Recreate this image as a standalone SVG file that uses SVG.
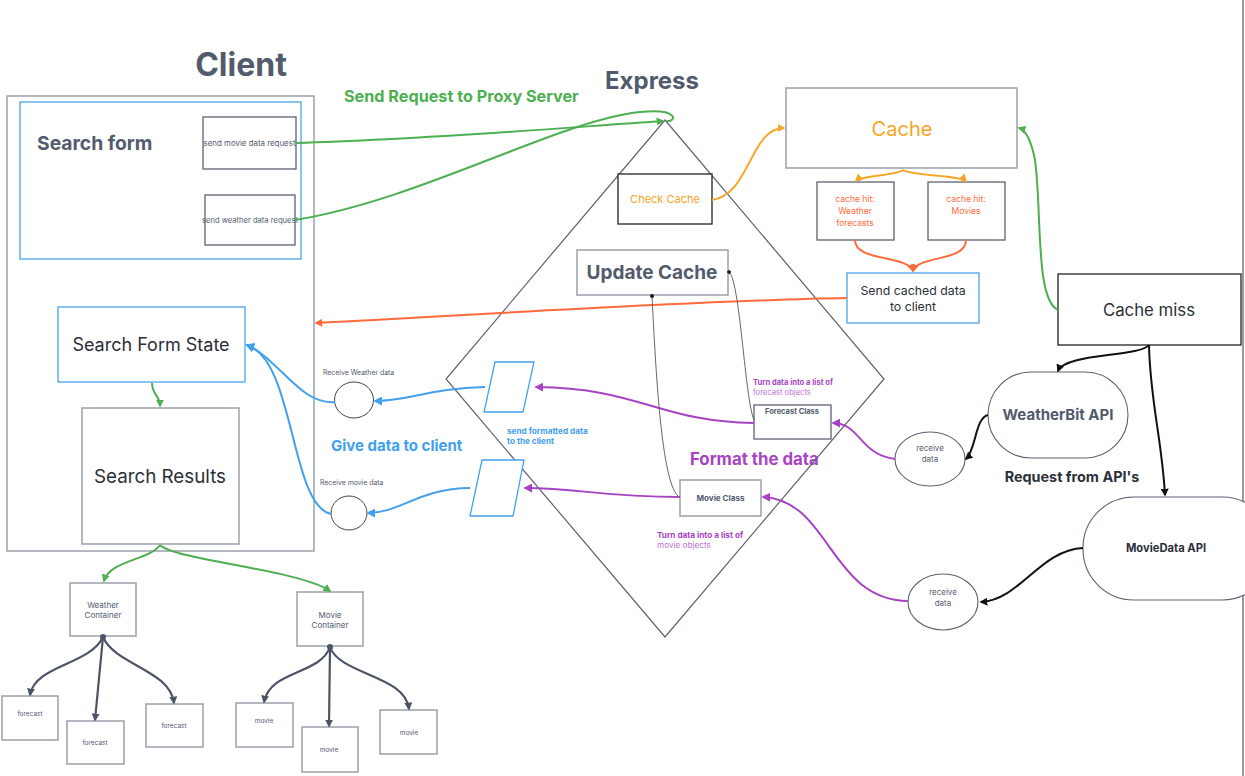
<svg xmlns="http://www.w3.org/2000/svg" width="1245" height="776" viewBox="0 0 1245 776">
<defs>
<style>
text{font-family:Inter,"Noto Sans","Liberation Sans",sans-serif}
.box{fill:#fff;stroke:#9aa0ab;stroke-width:1.5}
.dbox{fill:#fff;stroke:#5b6273;stroke-width:1.3}
.bbox{fill:#fff;stroke:#4aa3ea;stroke-width:1.3}
.kbox{fill:#fff;stroke:#222;stroke-width:1.3}
.gt{fill:#525b6d}
.dk{fill:#2b2f38}
.c{text-anchor:middle}
.b{font-weight:700}
.ln{fill:none;stroke-width:2}
.gr{stroke:#4caf50}
.bl{stroke:#42a0ef}
.pu{stroke:#a844c4}
.or{stroke:#f8a424}
.rd{stroke:#ff6a3a}
.dg{stroke:#4c5466;stroke-width:2.2}
.bk{stroke:#111}
.th{fill:none;stroke:#555;stroke-width:0.9}
</style>
<marker id="aG" viewBox="0 0 10 10" refX="8" refY="5" markerWidth="8" markerHeight="8" markerUnits="userSpaceOnUse" orient="auto"><path d="M0,0L10,5L0,10z" fill="#4caf50"/></marker>
<marker id="aB" viewBox="0 0 10 10" refX="8" refY="5" markerWidth="9" markerHeight="9" markerUnits="userSpaceOnUse" orient="auto"><path d="M0,0L10,5L0,10z" fill="#42a0ef"/></marker>
<marker id="aP" viewBox="0 0 10 10" refX="8" refY="5" markerWidth="9" markerHeight="9" markerUnits="userSpaceOnUse" orient="auto"><path d="M0,0L10,5L0,10z" fill="#a844c4"/></marker>
<marker id="aO" viewBox="0 0 10 10" refX="8" refY="5" markerWidth="8" markerHeight="8" markerUnits="userSpaceOnUse" orient="auto"><path d="M0,0L10,5L0,10z" fill="#f8a424"/></marker>
<marker id="aR" viewBox="0 0 10 10" refX="8" refY="5" markerWidth="8" markerHeight="8" markerUnits="userSpaceOnUse" orient="auto"><path d="M0,0L10,5L0,10z" fill="#ff6a3a"/></marker>
<marker id="aD" viewBox="0 0 10 10" refX="8" refY="5" markerWidth="8" markerHeight="8" markerUnits="userSpaceOnUse" orient="auto"><path d="M0,0L10,5L0,10z" fill="#4c5466"/></marker>
<marker id="aK" viewBox="0 0 10 10" refX="8" refY="5" markerWidth="8" markerHeight="8" markerUnits="userSpaceOnUse" orient="auto"><path d="M0,0L10,5L0,10z" fill="#111"/></marker>
<marker id="aT" viewBox="0 0 10 10" refX="5" refY="5" markerWidth="4" markerHeight="4" markerUnits="userSpaceOnUse" orient="auto"><circle cx="5" cy="5" r="5" fill="#222"/></marker>
<marker id="dot" viewBox="0 0 10 10" refX="5" refY="5" markerWidth="6" markerHeight="6" markerUnits="userSpaceOnUse"><circle cx="5" cy="5" r="5" fill="#4c5466"/></marker>
</defs>
<rect width="1245" height="776" fill="#fff"/>
<line x1="1243" y1="0" x2="1243" y2="776" stroke="#333" stroke-width="1"/>

<g id="titles">
<text x="241" y="76" class="gt b c" font-size="32">Client</text>
<text x="652" y="89" class="gt b c" font-size="24">Express</text>
<text x="344" y="102" class="b" font-size="16.2" fill="#4caf50">Send Request to Proxy Server</text>
<text x="331" y="451" class="b" font-size="15" fill="#42a0ef">Give data to client</text>
<text x="690" y="465" class="b" font-size="16.8" fill="#a844c4">Format the data</text>
<text x="1072" y="482" class="b c dk" font-size="14.4">Request from API's</text>
</g>

<g id="express-diamond"><path d="M665,120 L884,379 L665,637 L446,379 Z" fill="none" stroke="#5b6273" stroke-width="1.2"/></g>

<g id="client"><rect x="7" y="96" width="307" height="455" class="box"/></g>
<g id="search-form"><rect x="20" y="102" width="281" height="157" class="bbox"/>
<text x="37" y="150" class="gt b" font-size="19.3">Search form</text></g>
<g id="send-movie-request"><rect x="203" y="117" width="93" height="52" class="dbox"/>
<text x="249.5" y="146" class="gt c" font-size="7.9">send movie data request</text></g>
<g id="send-weather-request"><rect x="205" y="195" width="90" height="50" class="dbox"/>
<text x="250" y="223" class="gt c" font-size="7.6">send weather data request</text></g>
<g id="search-form-state"><rect x="58" y="307" width="187" height="75" class="bbox"/>
<text x="151" y="351" class="c dk" font-size="18">Search Form State</text></g>
<g id="search-results"><rect x="82" y="408" width="157" height="136" class="box"/>
<text x="160" y="483" class="c dk" font-size="18.8">Search Results</text></g>

<g id="weather-container"><rect x="70" y="583" width="66" height="53" class="box"/>
<text x="103" y="608" class="c gt" font-size="8">Weather</text><text x="103" y="618" class="c gt" font-size="8">Container</text></g>
<g id="movie-container"><rect x="297" y="592" width="66" height="54" class="box"/>
<text x="330" y="618" class="c gt" font-size="8">Movie</text><text x="330" y="628" class="c gt" font-size="8">Container</text></g>
<g id="forecast-1"><rect x="2" y="696" width="56" height="44" class="box"/><text x="30" y="716" class="c gt" font-size="6.5">forecast</text></g>
<g id="forecast-2"><rect x="67" y="721" width="57" height="43" class="box"/><text x="95" y="745" class="c gt" font-size="6.5">forecast</text></g>
<g id="forecast-3"><rect x="146" y="704" width="57" height="43" class="box"/><text x="174" y="728" class="c gt" font-size="6.5">forecast</text></g>
<g id="movie-1"><rect x="236" y="703" width="57" height="44" class="box"/><text x="264" y="723" class="c gt" font-size="6.5">movie</text></g>
<g id="movie-2"><rect x="302" y="727" width="56" height="45" class="box"/><text x="329" y="752" class="c gt" font-size="6.5">movie</text></g>
<g id="movie-3"><rect x="380" y="710" width="57" height="44" class="box"/><text x="409" y="735" class="c gt" font-size="6.5">movie</text></g>

<g id="receive-weather"><ellipse cx="354" cy="400" rx="19.5" ry="18" fill="#fff" stroke="#444" stroke-width="1"/>
<text x="323" y="375" class="gt" font-size="6.9">Receive Weather data</text></g>
<g id="receive-movie"><ellipse cx="349" cy="513" rx="18" ry="17" fill="#fff" stroke="#444" stroke-width="1"/>
<text x="320" y="485" class="gt" font-size="6.9">Receive movie data</text></g>

<g id="send-formatted-weather"><path d="M495,362 L534,362 L523,412 L484,412 Z" fill="#fff" stroke="#42a0ef" stroke-width="1.3"/></g>
<g id="send-formatted-movie"><path d="M482,460 L524,460 L513,516 L470,516 Z" fill="#fff" stroke="#42a0ef" stroke-width="1.3"/>
</g>
<g id="send-formatted-label"><text x="507" y="434" class="b" font-size="8.2" fill="#42a0ef">send formatted data</text>
<text x="507" y="444" class="b" font-size="8.2" fill="#42a0ef">to the client</text></g>

<g id="check-cache"><rect x="618" y="174" width="94" height="50" class="kbox"/>
<text x="665" y="203" class="c" font-size="11" fill="#f8a424">Check Cache</text></g>
<g id="update-cache"><rect x="577" y="250" width="151" height="45" class="box"/>
<text x="652" y="279" class="c gt b" font-size="19">Update Cache</text></g>
<g id="forecast-class"><rect x="754" y="405" width="77" height="34" class="dbox"/>
<text x="792" y="414" class="c gt b" font-size="7.5">Forecast Class</text>
<text x="753" y="385" class="b" font-size="7.6" fill="#a844c4">Turn data into a list of</text>
<text x="753" y="395" font-size="7.6" fill="#c072d6">forecast objects</text></g>
<g id="movie-class"><rect x="680" y="480" width="81" height="36" class="box"/>
<text x="720.5" y="501" class="c gt b" font-size="8.1">Movie Class</text>
<text x="657" y="538" class="b" font-size="8.2" fill="#a844c4">Turn data into a list of</text>
<text x="657" y="548" font-size="8.2" fill="#c072d6">movie objects</text></g>

<g id="cache"><rect x="786" y="88" width="231" height="80" class="box"/>
<text x="902" y="136" class="c" font-size="20" fill="#f8a424">Cache</text></g>
<g id="cache-hit-weather"><rect x="817" y="182" width="77" height="58" class="dbox"/>
<text x="855" y="202" class="c" font-size="8.5" fill="#ff6a3a">cache hit:</text>
<text x="855" y="214" class="c" font-size="8.5" fill="#ff6a3a">Weather</text>
<text x="855" y="226" class="c" font-size="8.5" fill="#ff6a3a">forecasts</text></g>
<g id="cache-hit-movies"><rect x="928" y="182" width="77" height="58" class="dbox"/>
<text x="966" y="202" class="c" font-size="8.5" fill="#ff6a3a">cache hit:</text>
<text x="966" y="214" class="c" font-size="8.5" fill="#ff6a3a">Movies</text></g>
<g id="send-cached"><rect x="847" y="273" width="132" height="50" class="bbox"/>
<text x="913" y="295" class="c dk" font-size="12.3">Send cached data</text>
<text x="913" y="311" class="c dk" font-size="12.3">to client</text></g>
<g id="cache-miss"><rect x="1058" y="274" width="183" height="71" class="kbox"/>
<text x="1149" y="316" class="c dk" font-size="16.8">Cache miss</text></g>
<g id="weatherbit-api"><rect x="988" y="372" width="140" height="86" rx="43" fill="#fff" stroke="#5b6273" stroke-width="1.1"/>
<text x="1058" y="420" class="c gt b" font-size="15">WeatherBit API</text></g>
<g id="moviedata-api"><rect x="1083" y="497" width="190" height="103" rx="51" fill="#fff" stroke="#5b6273" stroke-width="1.1"/>
<text x="1166" y="552" class="c dk b" font-size="11.2">MovieData API</text></g>
<g id="receive-data-weather"><ellipse cx="930" cy="459" rx="35" ry="27" fill="#fff" stroke="#5b6273" stroke-width="1.1"/>
<text x="930" y="451" class="c gt" font-size="8">receive</text><text x="930" y="462" class="c gt" font-size="8">data</text></g>
<g id="receive-data-movie"><ellipse cx="943" cy="602" rx="35" ry="28" fill="#fff" stroke="#5b6273" stroke-width="1.1"/>
<text x="943" y="595" class="c gt" font-size="8">receive</text><text x="943" y="606" class="c gt" font-size="8">data</text></g>

<g id="connectors">
<path class="ln gr" d="M296,143 C420,140 560,128 663,121" marker-end="url(#aG)"/>
<path class="ln gr" d="M295,220 C420,200 560,120 640,112 C680,108 676,122 667,121"/>
<path class="ln gr" d="M152,383 C152,395 160,395 160,406" marker-end="url(#aG)"/>
<path class="ln gr" d="M160,545 C150,560 110,560 104,581" marker-end="url(#aG)"/>
<path class="ln gr" d="M160,545 C175,560 300,570 330,591" marker-end="url(#aG)"/>
<path class="ln gr" d="M1058,310 C1035,300 1042,210 1035,160 C1031,140 1026,130 1019,128" marker-end="url(#aG)"/>

<path class="ln or" d="M712,200 C750,195 750,128 784,128" marker-end="url(#aO)"/>
<path class="ln or" d="M903,170 C895,176 862,175 856,181" marker-end="url(#aO)"/>
<path class="ln or" d="M903,170 C911,176 960,175 966,181" marker-end="url(#aO)"/>

<path class="ln rd" d="M855,240 C855,262 908,255 913,271" marker-end="url(#aR)"/>
<path class="ln rd" d="M966,240 C966,262 918,255 913,271" marker-end="url(#aR)"/>
<path class="ln rd" d="M847,298 C700,300 420,318 316,323" marker-end="url(#aR)"/>

<path class="ln bl" d="M485,387 C430,388 410,401 375,401" marker-end="url(#aB)"/>
<path class="ln bl" d="M470,488 C420,488 400,513 368,513" marker-end="url(#aB)"/>
<path class="ln bl" d="M335,402 C300,405 280,360 247,345" marker-end="url(#aB)"/>
<path class="ln bl" d="M331,514 C290,505 295,360 247,345" marker-end="url(#aB)"/>

<path class="ln pu" d="M754,423 C660,422 640,388 536,387" marker-end="url(#aP)"/>
<path class="ln pu" d="M680,497 C600,497 580,488 525,488" marker-end="url(#aP)"/>
<path class="ln pu" d="M895,459 C860,455 860,423 833,423" marker-end="url(#aP)"/>
<path class="ln pu" d="M908,601 C830,600 830,500 763,497" marker-end="url(#aP)"/>

<path class="th" d="M754,420 C745,400 740,280 729,272" marker-end="url(#aT)"/>
<path class="th" d="M678,496 C660,480 655,350 652,296" marker-end="url(#aT)"/>

<path class="ln dg" d="M103,637 C90,665 35,665 30,695" marker-start="url(#dot)" marker-end="url(#aD)"/>
<path class="ln dg" d="M103,637 L95,720" marker-end="url(#aD)"/>
<path class="ln dg" d="M103,637 C115,665 170,670 174,703" marker-end="url(#aD)"/>
<path class="ln dg" d="M330,647 C320,675 270,670 264,702" marker-start="url(#dot)" marker-end="url(#aD)"/>
<path class="ln dg" d="M330,647 L329,726" marker-end="url(#aD)"/>
<path class="ln dg" d="M330,647 C340,675 405,675 409,709" marker-end="url(#aD)"/>

<path class="ln bk" d="M1149,345 C1140,357 1065,353 1058,371" marker-end="url(#aK)"/>
<path class="ln bk" d="M1149,345 C1150,400 1162,440 1165,495" marker-end="url(#aK)"/>
<path class="ln bk" d="M988,415 C975,418 976,450 966,459" marker-end="url(#aK)"/>
<path class="ln bk" d="M1083,548 C1040,550 1020,600 981,602" marker-end="url(#aK)"/>
</g>
</svg>
